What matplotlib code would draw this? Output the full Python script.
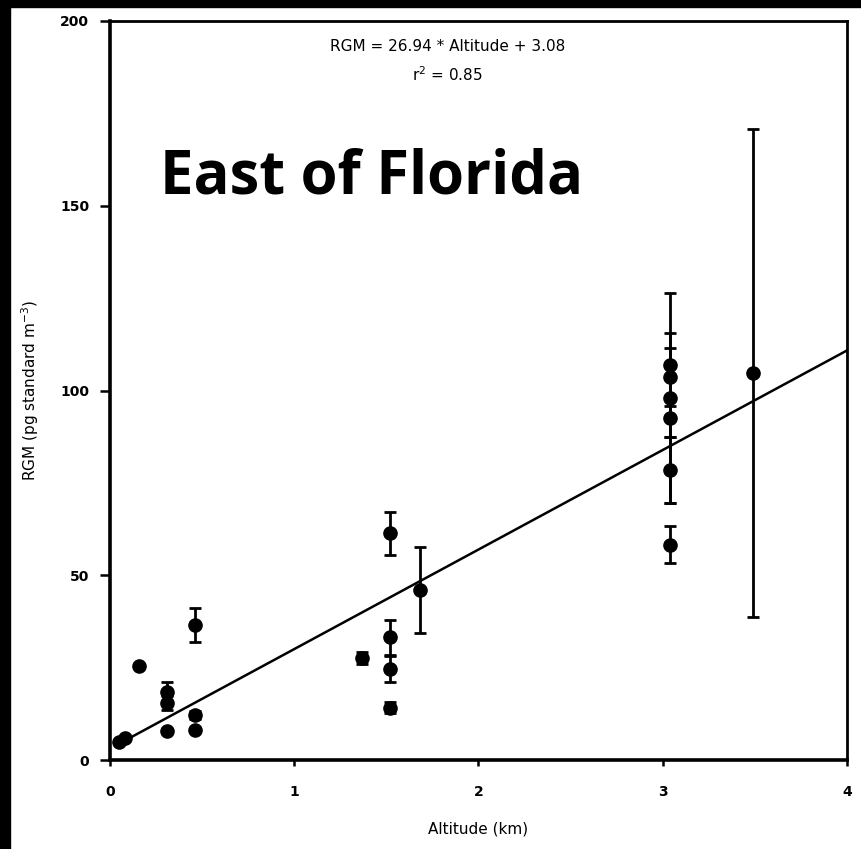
import matplotlib
matplotlib.use("Agg")
import matplotlib.pyplot as plt
import numpy as np
from matplotlib.patches import Rectangle

# ── data ─────────────────────────────────────────────────────────────────
altitude = [0.05, 0.08, 0.16, 0.31, 0.31, 0.31, 0.46, 0.46, 0.46, 1.37,
            1.52, 1.52, 1.52, 1.52, 1.68,
            3.04, 3.04, 3.04, 3.04, 3.04, 3.04, 3.49]
rgm = [5.0, 6.0, 25.4, 18.4, 15.4, 7.8, 36.5, 12.2, 8.1, 27.6,
       61.4, 33.2, 24.6, 14.1, 46.0,
       106.9, 103.7, 98.0, 92.6, 78.5, 58.2, 104.7]
rgm_err = [0.0, 0.0, 0.0, 2.7, 2.0, 0.0, 4.7, 1.0, 0.0, 1.5,
           5.8, 4.7, 3.5, 1.5, 11.6,
           19.5, 7.8, 5.0, 23.0, 9.0, 5.0, 66.0]

slope = 26.94
intercept = 3.08
r2 = 0.85
x_ticks = [0, 1, 2, 3, 4]
y_ticks = [0, 50, 100, 150, 200]

fig = plt.figure(figsize=(8.61, 8.49), dpi=100)
ax = fig.add_axes([110 / 861, 1 - 760 / 849, 737 / 861, 739 / 849])

ax.errorbar(altitude, rgm, yerr=rgm_err, fmt="o", color="black",
            ms=9.5, elinewidth=2.0, capsize=4.5, capthick=2.0)

xl = np.array([0.05, 4.0])
ax.plot(xl, slope * xl + intercept, color="black", lw=1.8)

ax.set_xlim(0, 4)
ax.set_ylim(0, 200)
ax.set_xticks(x_ticks)
ax.set_yticks(y_ticks)
ax.tick_params(axis="y", direction="out", length=7, width=1.8, pad=8, labelsize=10)
ax.tick_params(axis="x", direction="out", length=4, width=1.8, pad=14, labelsize=10)
for lab in ax.get_xticklabels() + ax.get_yticklabels():
    lab.set_fontweight("bold")
for side in ["left", "bottom"]:
    ax.spines[side].set_linewidth(2.6)
for side in ["top", "right"]:
    ax.spines[side].set_linewidth(2.0)

ax.set_xlabel("Altitude (km)", fontsize=11, labelpad=16)
ax.set_ylabel("RGM (pg standard m$^{-3}$)", fontsize=11, labelpad=14)

ax.text(1.83, 193, f"RGM = {slope} * Altitude + {intercept}", ha="center",
        va="center", fontsize=11)
ax.text(1.83, 185.5, f"r$^2$ = {r2}", ha="center", va="center", fontsize=11)
ax.text(0.27, 157.5, "East of Florida", ha="left", va="center",
        fontsize=43, fontweight="bold", family="Open Sans")

# black frame strips at left and top of the screenshot
fig.patches.append(Rectangle((0, 0), 10 / 861, 1, transform=fig.transFigure,
                             color="black", zorder=10))
fig.patches.append(Rectangle((0, 1 - 7 / 849), 1, 7 / 849, transform=fig.transFigure,
                             color="black", zorder=10))

fig.savefig("out.png", dpi=100)
